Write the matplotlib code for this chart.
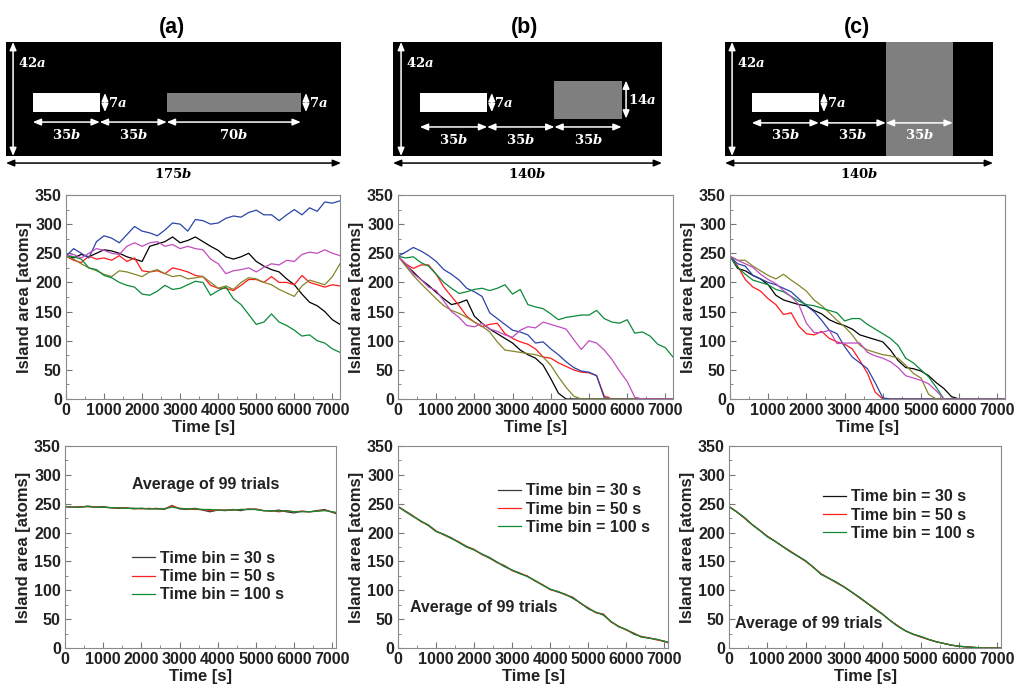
import numpy as np
import matplotlib
matplotlib.use("Agg")
import matplotlib.pyplot as plt
from matplotlib.patches import Rectangle
from matplotlib.ticker import MultipleLocator

plt.rcParams['font.family'] = ['Liberation Sans', 'DejaVu Sans']
plt.rcParams['font.weight'] = 'bold'
plt.rcParams['axes.labelweight'] = 'bold'
plt.rcParams['mathtext.fontset'] = 'custom'
plt.rcParams['mathtext.rm'] = 'DejaVu Serif:bold'
plt.rcParams['mathtext.it'] = 'DejaVu Serif:bold:italic'

W, H = 1014, 685

# single trials, sampled every 200 s
t = np.arange(0, 7201, 200)
a_black = [245, 242, 248, 244, 250, 256, 254, 250, 244, 240, 236, 262, 266, 270, 278, 268, 272, 278, 270, 262,
           255, 244, 240, 244, 250, 236, 228, 222, 218, 206, 196, 180, 166, 160, 150, 136, 128]
a_red = [245, 238, 234, 245, 240, 242, 238, 246, 236, 242, 220, 218, 220, 215, 225, 222, 218, 212, 210, 195,
         190, 190, 186, 195, 205, 205, 200, 210, 200, 200, 196, 212, 200, 196, 192, 196, 194]
a_blue = [245, 258, 250, 242, 270, 280, 276, 268, 282, 296, 288, 285, 280, 290, 302, 300, 288, 308, 306, 300,
          302, 310, 314, 312, 320, 324, 316, 316, 306, 316, 325, 316, 328, 322, 338, 336, 340]
a_olive = [245, 240, 232, 225, 220, 214, 210, 220, 218, 214, 210, 218, 222, 215, 210, 212, 206, 208, 210, 200,
           190, 194, 188, 200, 208, 206, 200, 196, 188, 182, 176, 194, 204, 200, 196, 210, 232]
a_green = [245, 244, 240, 225, 222, 212, 208, 200, 195, 192, 180, 178, 185, 195, 188, 190, 196, 202, 200, 178,
           186, 192, 172, 162, 145, 128, 132, 146, 132, 126, 118, 108, 110, 100, 96, 86, 80]
a_magenta = [245, 248, 242, 250, 258, 255, 250, 248, 262, 268, 262, 268, 270, 262, 265, 258, 262, 258, 256, 240,
             232, 215, 220, 222, 225, 218, 226, 232, 230, 238, 236, 248, 252, 250, 256, 250, 246]

b_black = [245, 230, 218, 205, 195, 183, 172, 162, 165, 170, 142, 130, 120, 112, 104, 96, 84, 76, 70, 58,
           35, 10, 0, 0, 0, 0, 0, 0, 0, 0, 0, 0, 0, 0, 0, 0, 0]
b_red = [245, 232, 224, 230, 230, 214, 192, 176, 160, 142, 132, 124, 128, 130, 112, 104, 98, 94, 86, 72,
         70, 62, 56, 50, 46, 45, 40, 5, 0, 0, 0, 0, 0, 0, 0, 0, 0]
b_blue = [245, 252, 260, 254, 246, 236, 222, 214, 204, 190, 184, 176, 148, 138, 128, 118, 115, 110, 96, 98,
          86, 76, 64, 54, 48, 46, 40, 2, 0, 0, 0, 0, 0, 0, 0, 0, 0]
b_olive = [245, 228, 212, 198, 185, 172, 160, 152, 147, 140, 132, 125, 115, 98, 84, 82, 80, 78, 76, 72,
           58, 38, 20, 5, 0, 0, 0, 0, 0, 0, 0, 0, 0, 0, 0, 0, 0]
b_green = [245, 242, 244, 234, 228, 214, 200, 190, 181, 184, 188, 190, 186, 190, 196, 180, 188, 162, 158, 155,
           146, 136, 140, 142, 144, 144, 152, 138, 132, 130, 136, 113, 115, 108, 94, 88, 72]
b_magenta = [245, 232, 215, 205, 192, 186, 168, 150, 140, 126, 124, 130, 120, 116, 110, 106, 118, 124, 122, 132,
             128, 124, 120, 102, 85, 100, 96, 84, 68, 48, 30, 3, 0, 0, 0, 0, 0]

c_black = [245, 224, 220, 212, 206, 196, 178, 170, 166, 162, 160, 152, 146, 136, 130, 126, 120, 110, 106, 102,
           98, 84, 66, 54, 52, 48, 40, 28, 18, 4, 0, 0, 0, 0, 0, 0, 0]
c_red = [245, 228, 205, 192, 185, 172, 162, 145, 148, 125, 112, 110, 116, 104, 98, 94, 86, 66, 44, 12,
         0, 0, 0, 0, 0, 0, 0, 0, 0, 0, 0, 0, 0, 0, 0, 0, 0]
c_blue = [245, 232, 228, 212, 206, 200, 196, 190, 184, 172, 160, 150, 135, 118, 112, 90, 72, 62, 52, 28,
          2, 0, 0, 0, 0, 0, 0, 0, 0, 0, 0, 0, 0, 0, 0, 0, 0]
c_olive = [245, 238, 238, 228, 220, 212, 206, 214, 204, 195, 185, 170, 160, 148, 135, 124, 110, 92, 84, 80,
           76, 74, 70, 58, 44, 36, 8, 0, 0, 0, 0, 0, 0, 0, 0, 0, 0]
c_green = [245, 226, 214, 204, 200, 196, 188, 184, 176, 168, 162, 160, 156, 152, 148, 134, 138, 138, 128, 120,
           112, 104, 92, 70, 62, 50, 38, 20, 0, 0, 0, 0, 0, 0, 0, 0, 0]
c_magenta = [245, 238, 232, 226, 214, 205, 198, 186, 176, 162, 130, 114, 114, 118, 95, 96, 96, 96, 80, 74,
             70, 64, 54, 40, 36, 32, 26, 14, 0, 0, 0, 0, 0, 0, 0, 0, 0]

# averages of 99 trials for three time bins
t_avg = np.append(np.arange(0, 7001, 200), 7100)
a_bin30 = [245, 244, 244, 246, 244, 245, 243, 242, 243, 241, 242, 241, 242, 240, 247, 241, 240, 242, 239, 236,
           239, 238, 240, 238, 241, 240, 238, 237, 239, 236, 234, 237, 236, 238, 240, 235, 233]
a_bin50 = [245, 244, 245, 245, 244, 244, 243, 243, 242, 242, 241, 242, 241, 241, 246, 242, 241, 240, 240, 238,
           239, 239, 239, 240, 240, 241, 238, 238, 236, 238, 236, 237, 236, 237, 239, 236, 234]
a_bin100 = [245, 244, 244, 245, 244, 244, 243, 243, 242, 242, 242, 241, 241, 241, 244, 242, 241, 241, 240, 240,
            239, 239, 239, 240, 240, 240, 238, 238, 237, 238, 236, 236, 236, 237, 238, 236, 235]
b_bin30 = [245, 236, 228, 220, 212, 202, 197, 191, 183, 175, 170, 163, 157, 149, 141, 135, 130, 124, 117, 109,
           102, 97, 93, 86, 78, 68, 62, 57, 46, 37, 32, 24, 20, 17, 15, 11, 10]
b_bin50 = [245, 237, 229, 219, 213, 203, 196, 190, 184, 176, 171, 162, 156, 148, 143, 134, 129, 125, 116, 110,
           101, 98, 92, 88, 77, 70, 61, 59, 45, 38, 31, 26, 19, 18, 14, 12, 9]
b_bin100 = [245, 237, 228, 220, 213, 202, 197, 190, 183, 176, 170, 163, 156, 149, 142, 135, 129, 124, 117, 109,
            102, 98, 93, 87, 78, 69, 62, 58, 46, 37, 32, 25, 19, 17, 15, 12, 10]
c_bin30 = [245, 236, 226, 214, 204, 193, 185, 176, 167, 159, 151, 140, 128, 121, 114, 106, 97, 88, 78, 68,
           59, 48, 38, 30, 24, 20, 15, 11, 8, 5, 3, 2, 1, 0, 0, 0, 0]
c_bin50 = [245, 236, 225, 214, 204, 194, 185, 176, 168, 159, 150, 140, 129, 121, 113, 106, 97, 87, 78, 69,
           59, 48, 39, 30, 24, 19, 15, 11, 8, 5, 3, 2, 1, 0, 0, 0, 0]
c_bin100 = [245, 236, 226, 214, 204, 193, 185, 176, 167, 159, 151, 140, 128, 121, 114, 106, 97, 88, 78, 68,
            59, 48, 38, 30, 24, 20, 15, 11, 8, 5, 3, 2, 1, 0, 0, 0, 0]

trial_colors = {'black': '#000000', 'red': '#ff1a1a', 'blue': '#2a44a8', 'olive': '#85852a',
                'green': '#0b8a3a', 'magenta': '#c04cc0'}
bin_labels = ['Time bin = 30 s', 'Time bin = 50 s', 'Time bin = 100 s']

fig = plt.figure(figsize=(W / 100, H / 100), dpi=100)


def px_axes(left, top, right, bottom):
    return fig.add_axes([left / W, 1 - bottom / H, (right - left) / W, (bottom - top) / H])


def style(ax, xmax):
    ax.set_xlim(0, xmax)
    ax.set_ylim(0, 350)
    ax.set_xticks(range(0, 7001, 1000))
    ax.set_yticks(range(0, 351, 50))
    ax.xaxis.set_minor_locator(MultipleLocator(500))
    ax.yaxis.set_minor_locator(MultipleLocator(25))
    ax.tick_params(which='both', direction='in', color='#777777', labelcolor='#222222',
                   labelsize=11.5, pad=3)
    ax.tick_params(which='major', length=4)
    ax.tick_params(which='minor', length=2.5)
    plt.setp(ax.get_xticklabels() + ax.get_yticklabels(), fontweight='bold')
    for s in ax.spines.values():
        s.set_color('#8a8a8a')
        s.set_linewidth(0.8)
    ax.set_xlabel('Time [s]', fontsize=12, labelpad=1, color='#222222', fontweight='bold')
    ax.set_ylabel('Island area [atoms]', fontsize=12, labelpad=2, color='#222222', fontweight='bold')


def arrow(ax, p0, p1, color='white'):
    ax.annotate('', xy=p1, xytext=p0, annotation_clip=False,
                arrowprops=dict(arrowstyle='<|-|>,head_length=0.6,head_width=0.25', color=color,
                                lw=1.1, shrinkA=0, shrinkB=0, mutation_scale=8))


FS = 9.5


def schematic(left, right, width_b, gray, y_arrow, y_lab, x_42, x_7a, total):
    ax = px_axes(left, 42, right, 156)
    ax.set_xlim(0, width_b)
    ax.set_ylim(0, 42)
    ax.set_facecolor('black')
    ax.set_xticks([])
    ax.set_yticks([])
    for s in ax.spines.values():
        s.set_visible(False)
    ax.add_patch(Rectangle((14, 16.2), 35, 7, facecolor='white', edgecolor='none'))
    gx, gy, gw, gh = gray
    ax.add_patch(Rectangle((gx, gy), gw, gh, facecolor='#7f7f7f', edgecolor='none'))
    # 42a height
    arrow(ax, (x_42, 0), (x_42, 42))
    ax.text(x_42 + 2.4, 34.3, r'$42a$', color='white', fontsize=FS, va='center', ha='left')
    # island height
    arrow(ax, (x_7a, 16.2), (x_7a, 23.2))
    ax.text(x_7a + 1.4, 19.7, r'$7a$', color='white', fontsize=FS, va='center', ha='left')
    # horizontal spans
    edges = [14, 49, 84, gx + gw]
    for x0, x1 in zip(edges[:-1], edges[1:]):
        arrow(ax, (x0, y_arrow), (x1, y_arrow))
        ax.text((x0 + x1) / 2, y_lab, r'$%db$' % round(x1 - x0), color='white', fontsize=FS,
                ha='center', va='center')
    # total width below the box
    arrow(ax, (0, -2.6), (width_b, -2.6), color='black')
    ax.text(width_b / 2, -6.5, r'$%db$' % total, color='black', fontsize=FS, ha='center', va='center')
    return ax


# geometry sketches
sa = schematic(6, 341, 175, (84, 16.2, 70, 7), 12.5, 7.7, 3.7, 51.7, 175)
arrow(sa, (156.7, 16.2), (156.7, 23.2))
sa.text(158.1, 19.7, r'$7a$', color='white', fontsize=FS, va='center', ha='left')

sb = schematic(393, 662, 140, (84, 13.8, 35, 14), 10.7, 5.9, 4.2, 51.4, 140)
arrow(sb, (121.3, 13.8), (121.3, 27.8))
sb.text(122.3, 20.8, r'$14a$', color='white', fontsize=FS, va='center', ha='left')

sc = schematic(725, 993, 140, (84, 0, 35, 42), 12.2, 7.7, 3.7, 51.7, 140)

for label, xc in [('(a)', 172), ('(b)', 525), ('(c)', 857)]:
    fig.text(xc / W, 1 - 28 / H, label, fontsize=15.5, ha='center', va='center', fontweight='bold')

# single-trial panels
trials = [
    (66, 340, [a_black, a_red, a_blue, a_olive, a_green, a_magenta]),
    (398, 673, [b_black, b_red, b_blue, b_olive, b_green, b_magenta]),
    (730, 1005, [c_black, c_red, c_blue, c_olive, c_green, c_magenta]),
]
for left, right, series in trials:
    ax = px_axes(left, 195, right, 399)
    for name, y in zip(['black', 'red', 'blue', 'olive', 'green', 'magenta'], series):
        ax.plot(t, y, color=trial_colors[name], lw=0.9)
    style(ax, 7200)

# averaged panels
averages = [
    (65, 336, [a_bin30, a_bin50, a_bin100], '#3a3a3a', (0.247, 0.48), (3680, 284, 'center')),
    (398, 668, [b_bin30, b_bin50, b_bin100], '#3a3a3a', (0.37, 0.815), (313, 71, 'left')),
    (729, 1001, [c_bin30, c_bin50, c_bin100], '#111111', (0.345, 0.785), (157, 43, 'left')),
]
for left, right, series, c30, leg_pos, (tx, ty, ha) in averages:
    ax = px_axes(left, 446, right, 648)
    for y, col, lab in zip(series, [c30, '#ff2020', '#108a30'], bin_labels):
        ax.plot(t_avg, y, color=col, lw=0.9, label=lab)
    style(ax, 7100)
    leg = ax.legend(loc='upper left', bbox_to_anchor=leg_pos, frameon=False, fontsize=11.5,
                    handlelength=1.45, handletextpad=0.3, labelspacing=0.2, borderpad=0, borderaxespad=0)
    for txt in leg.get_texts():
        txt.set_fontweight('bold')
        txt.set_color('#222222')
    ax.text(tx, ty, 'Average of 99 trials', fontsize=11.5, ha=ha, va='center', color='#222222',
            fontweight='bold')

fig.savefig('out.png', dpi=100)
